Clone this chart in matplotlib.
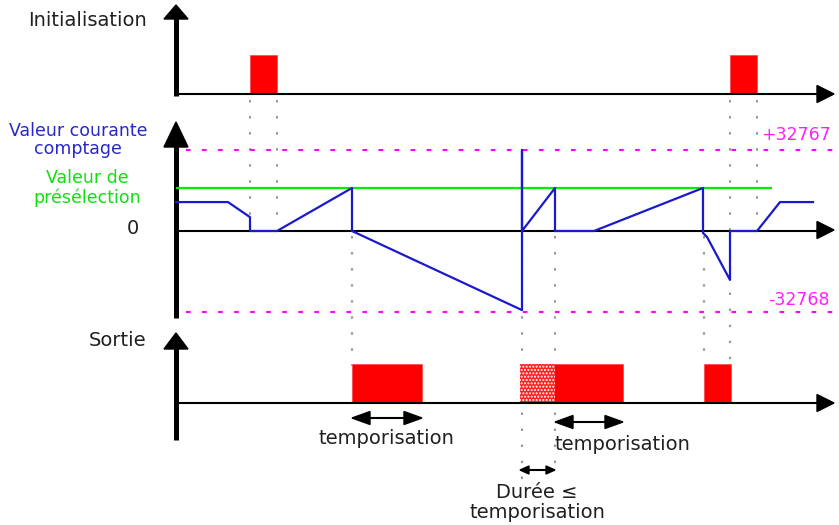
import matplotlib
matplotlib.use('Agg')
import matplotlib.pyplot as plt
from matplotlib.patches import Polygon

plt.rcParams['font.family'] = ['DejaVu Sans']

W, H = 839, 525

# --- donnees (temps en colonnes de l'image) ---
init_start = [250, 730]
init_end = [277, 757]

count_t = [176, 228, 250, 250, 277, 352, 352, 522, 522, 522, 555, 555, 594,
           703, 703, 707, 730, 730, 757, 780, 813]
count_v = [11700, 11700, 5600, 0, 0, 17400, 0, -32000, 32767, 0, 17400, 0, 0,
           17400, -800, -2400, -19800, 0, 0, 11700, 11700]
preset = 17400
count_max = 32767
count_min = -32768

out_start = [352, 520, 704]
out_end = [422, 623, 731]
hatch_start = 520
hatch_end = 555

tempo_arrows = [(352, 422), (555, 623)]
duree_arrow = (520, 555)

# guides verticaux : (temps, haut px, bas px)
guides = [(250, 100, 228), (277, 100, 228), (352, 236, 366), (522, 236, 480),
          (555, 236, 472), (704, 236, 364), (730, 100, 404), (757, 100, 228)]

fig = plt.figure(figsize=(W / 100, H / 100), dpi=100)

# calque en pixels pour le decor
deco = fig.add_axes([0, 0, 1, 1])
deco.set_xlim(0, W)
deco.set_ylim(H, 0)
deco.axis('off')


def panel(px_hi, v_hi, px_lo, v_lo):
    ax = fig.add_axes([0, 1 - px_lo / H, 1, (px_lo - px_hi) / H])
    ax.set_xlim(0, W)
    ax.set_ylim(v_lo, v_hi)
    ax.axis('off')
    ax.patch.set_alpha(0)
    return ax


ax_init = panel(55, 1, 94, 0)
ax_cnt = panel(150, count_max, 312, count_min)
ax_out = panel(364, 1, 403, 0)

# guides gris pointilles
for x, y1, y2 in guides:
    deco.plot([x, x], [y1, y2], color='#999999', lw=1.5, dashes=(1.2, 6.5), zorder=1)


def up_arrow(x, tip, h, bottom, hw=12):
    deco.plot([x, x], [bottom, tip + h - 2], color='black', lw=3.6, solid_capstyle='butt', zorder=5)
    deco.add_patch(Polygon([(x - hw, tip + h), (x, tip), (x + hw, tip + h)],
                           closed=True, color='black', zorder=5))


def right_arrow(tip, y, l=17, hh=8.5):
    deco.add_patch(Polygon([(tip - l, y - hh), (tip, y), (tip - l, y + hh)],
                           closed=True, color='black', zorder=5))


def dbl_arrow(x1, x2, y, hl, hh):
    deco.plot([x1 + hl / 2, x2 - hl / 2], [y, y], color='black', lw=1.5, zorder=5)
    deco.add_patch(Polygon([(x1, y), (x1 + hl, y - hh), (x1 + hl, y + hh)], closed=True, color='black'))
    deco.add_patch(Polygon([(x2, y), (x2 - hl, y - hh), (x2 - hl, y + hh)], closed=True, color='black'))


# axes
up_arrow(176, 5, 14, 96)
up_arrow(176, 122, 25, 318)
up_arrow(176, 333, 16, 440)
right_arrow(834, 94)
right_arrow(834, 230)
right_arrow(834, 403)

# Initialisation
ax_init.bar(init_start, 1, width=[e - s for s, e in zip(init_start, init_end)],
            align='edge', color='#ff0000', edgecolor='#ff5050', lw=0.6, clip_on=False, zorder=2)
ax_init.hlines(0, 176, 818, color='black', lw=1.5, clip_on=False, zorder=3)

# Compteur
ax_cnt.hlines([count_max, count_min], [186, 186], [839, 839], color='#ff00ff', lw=1.5,
              linestyles=(0, (2.2, 5.5)), clip_on=False, zorder=2)
ax_cnt.hlines(preset, 176, 772, color='#00ee00', lw=1.6, clip_on=False, zorder=3)
ax_cnt.hlines(0, 176, 818, color='black', lw=1.5, clip_on=False, zorder=3)
ax_cnt.plot(count_t, count_v, color='#1a1acc', lw=1.6, clip_on=False, zorder=4)

# Sortie
widths = [e - s for s, e in zip(out_start, out_end)]
ax_out.bar(out_start, 1, width=widths, align='edge', color='#ff0000',
           edgecolor='#ff5050', lw=0.6, clip_on=False, zorder=2)
ax_out.bar(hatch_start, 1, width=hatch_end - hatch_start, align='edge', facecolor='#ff2020',
           edgecolor='white', hatch='.....', lw=0, clip_on=False, zorder=2.5)
ax_out.hlines(0, 176, 818, color='black', lw=1.5, clip_on=False, zorder=3)

# fleches de temporisation
dbl_arrow(tempo_arrows[0][0], tempo_arrows[0][1], 418, 18, 6.5)
dbl_arrow(tempo_arrows[1][0], tempo_arrows[1][1], 422, 18, 6.5)
dbl_arrow(duree_arrow[0], duree_arrow[1], 470, 9, 4)

# textes
fs = 14
deco.text(28, 21, 'Initialisation', fontsize=fs, color='#202020', va='center', ha='left')
deco.text(78, 140, 'Valeur courante\ncomptage', fontsize=fs - 1.5, color='#2828c8',
          va='center', ha='center', linespacing=1.05)
deco.text(87, 188, 'Valeur de\nprésélection', fontsize=fs - 1.5, color='#10e010',
          va='center', ha='center', linespacing=1.05)
deco.text(133, 229, '0', fontsize=fs, color='#202020', va='center', ha='center')
deco.text(796, 135, '+32767', fontsize=fs - 1.5, color='#ff20ff', va='center', ha='center')
deco.text(799, 300, '-32768', fontsize=fs - 1.5, color='#ff20ff', va='center', ha='center')
deco.text(118, 340, 'Sortie', fontsize=fs, color='#202020', va='center', ha='center')
deco.text(386, 438, 'temporisation', fontsize=fs, color='#202020', va='center', ha='center')
deco.text(622, 444, 'temporisation', fontsize=fs, color='#202020', va='center', ha='center')
deco.text(537, 492, 'Durée ≤', fontsize=fs, color='#202020', va='center', ha='center')
deco.text(537, 513, 'temporisation', fontsize=fs, color='#202020', va='center', ha='center')

fig.savefig('out.png', dpi=100)
